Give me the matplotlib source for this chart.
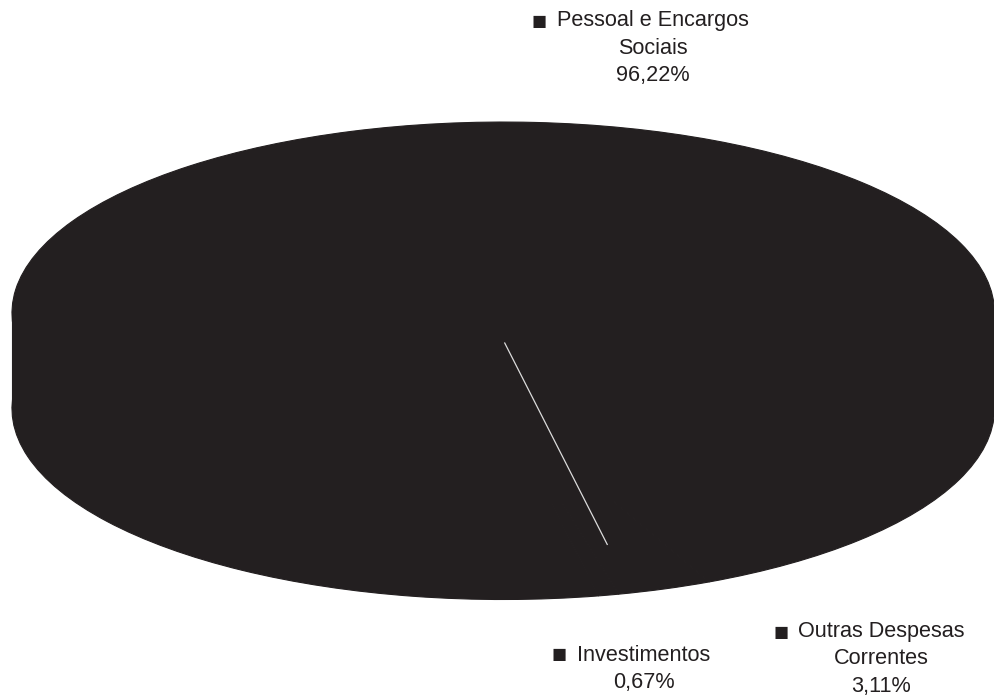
import numpy as np
import matplotlib

matplotlib.use("Agg")
import matplotlib.pyplot as plt
from matplotlib.patches import Rectangle

plt.rcParams["font.family"] = ["Liberation Sans", "DejaVu Sans"]

# dados do grafico (percentuais)
categorias = ["Pessoal e Encargos\nSociais", "Investimentos", "Outras Despesas\nCorrentes"]
valores = [96.22, 0.67, 3.11]
rotulos = ["96,22%", "0,67%", "3,11%"]

COR = "#231f20"
START = -65.2      # angulo inicial das fatias
DEPTH = 0.50       # espessura do "3D"

fig = plt.figure(figsize=(9.95, 6.95), dpi=100)
ax = fig.add_axes([0, 0, 1, 1])

cores = [COR] * len(valores)
wp = dict(linewidth=0.8, edgecolor=COR)

# face inferior + lateral + face superior
ax.pie(valores, colors=cores, startangle=START, center=(0, -DEPTH), wedgeprops=wp)
ax.add_patch(Rectangle((-1, -DEPTH), 2, DEPTH, facecolor=COR, edgecolor=COR, lw=0.8))
ax.pie(valores, colors=cores, startangle=START, center=(0, 0), wedgeprops=wp)

# linha divisoria entre Pessoal e as demais fatias
theta = np.deg2rad(START + 360 * valores[0] / sum(valores))
y0, L = -0.157, 1.075
ax.plot([0.003, 0.003 + L * np.cos(theta)], [y0, y0 + L * np.sin(theta)],
        color="#dcdcdc", lw=0.9, zorder=5)

ax.set_aspect("auto")
ax.set_xlim(-1.0244, 1.0010)
ax.set_ylim(-2.0, 1.639)
ax.axis("off")


# rotulos (posicoes em pixels da figura)
def px(x, y):
    return x / 995, 1 - y / 695


pos_texto = [(653, 48), (644, 669), (881, 659)]
pos_marca = [(539, 22), (559, 655), (781, 633)]
for cat, rot, (x, y), (mx, my) in zip(categorias, rotulos, pos_texto, pos_marca):
    fig.text(*px(x, y), cat + "\n" + rot, ha="center", va="center", fontsize=15.6,
             color=COR, linespacing=1.38)
    fig.text(*px(mx, my), "\u25a0", ha="center", va="center", fontsize=18,
             color=COR)

fig.savefig("out.png", dpi=100)
